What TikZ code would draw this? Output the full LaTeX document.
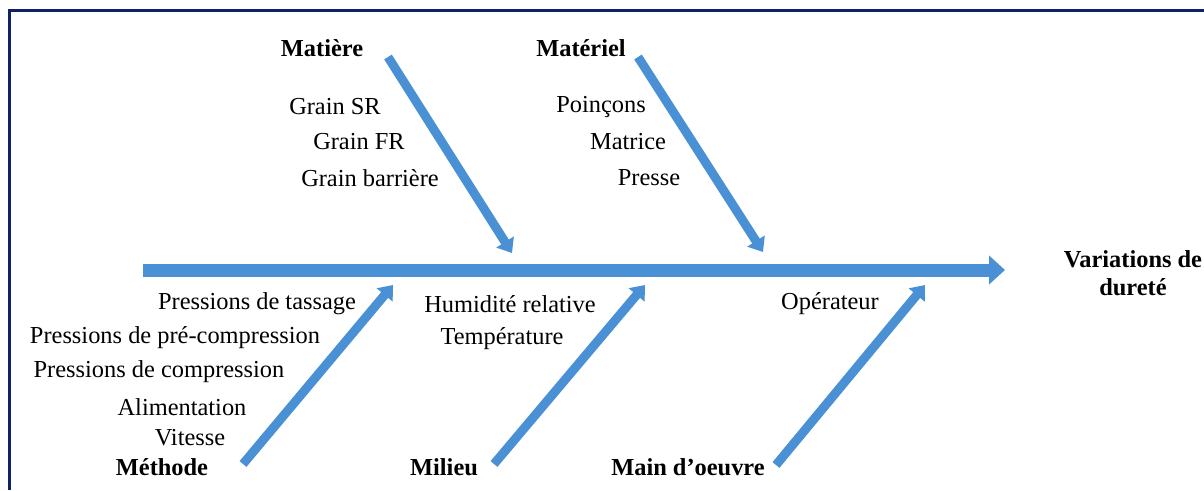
\documentclass[tikz,border=0pt]{standalone}
\usepackage{fontspec}
\setmainfont{Liberation Serif}
\usetikzlibrary{arrows.meta}
\definecolor{navy}{RGB}{14,34,100}
\definecolor{arrowblue}{RGB}{74,144,213}
\tikzset{
  spinearrow/.style={draw=arrowblue, line width=13pt, -{Triangle[width=28pt,length=16pt]}},
  bonearrow/.style={draw=arrowblue, line width=9pt, -{Triangle[width=20pt,length=13pt]}},
  lbl/.style={inner sep=0pt, yshift=-2pt, font=\fontsize{24.4}{28}\selectfont},
  cat/.style={inner sep=0pt, font=\fontsize{24.4}{28}\selectfont\bfseries},
}
\begin{document}
\begin{tikzpicture}[x=1pt,y=-1pt]
\useasboundingbox (0,0) rectangle (1204,490);
\fill[white] (0,0) rectangle (1204,490);
\draw[navy, line width=2.5pt] (1204,10.5) -- (9.5,10.5) -- (9.5,490);

% spine
\coordinate (spineT) at (143,270);
\coordinate (spineH) at (1005,270);
\draw[spinearrow] (spineT) -- (spineH);

% bones
\coordinate (matiereT) at (388,57);
\coordinate (matiereH) at (512,253);
\coordinate (materielT) at (638,57);
\coordinate (materielH) at (763,252);
\coordinate (methodeT) at (243,464);
\coordinate (methodeH) at (393,285);
\coordinate (milieuT) at (494,464);
\coordinate (milieuH) at (645,285);
\coordinate (mainT) at (776,465);
\coordinate (mainH) at (925,285);
\draw[bonearrow] (matiereT) -- (matiereH);
\draw[bonearrow] (materielT) -- (materielH);
\draw[bonearrow] (methodeT) -- (methodeH);
\draw[bonearrow] (milieuT) -- (milieuH);
\draw[bonearrow] (mainT) -- (mainH);

% labels
\node[cat] (matiere) at (322,48) {Matière};
\node[lbl] (gsr) at (335,105) {Grain SR};
\node[lbl] (gfr) at (359,140) {Grain FR};
\node[lbl] (gbar) at (370,176) {Grain barrière};

\node[cat] (materiel) at (581,48) {Matériel};
\node[lbl] (poin) at (601,105) {Poinçons};
\node[lbl] (matr) at (628,140) {Matrice};
\node[lbl] (pres) at (649,176) {Presse};

\node[cat, align=center] (effet) at (1133,273) {Variations de\\dureté};

\node[lbl] (ptas) at (257,302) {Pressions de tassage};
\node[lbl] (ppre) at (175,336) {Pressions de pré-compression};
\node[lbl] (pcom) at (159,370) {Pressions de compression};
\node[lbl] (alim) at (182,405) {Alimentation};
\node[lbl] (vit) at (190,436) {Vitesse};
\node[cat] (methode) at (162,467) {Méthode};

\node[lbl] (humi) at (510,302) {Humidité relative};
\node[lbl] (temp) at (502,337) {Température};
\node[cat] (milieu) at (444,467) {Milieu};

\node[lbl] (oper) at (830,302) {Opérateur};
\node[cat] (main) at (688,467) {Main d’oeuvre};
\end{tikzpicture}
\end{document}
